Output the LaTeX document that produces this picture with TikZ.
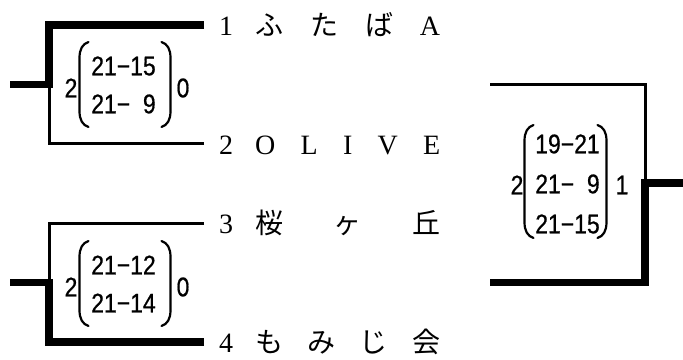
\documentclass[tikz,border=0pt]{standalone}
\usepackage{fontspec}
\setmainfont{Liberation Serif}
\newfontfamily\cjk{Noto Sans CJK JP}
\newfontfamily\scorefam[FakeStretch=0.85,FakeBold=0.6]{Liberation Sans}
\newcommand\J[1]{{\cjk #1}}
\newcommand\teamtext[2]{#1\hspace{22pt}\makebox[185pt][s]{#2}}
\begin{document}
\begin{tikzpicture}[x=1pt,y=-1pt,
  win/.style={line width=7.5pt},
  lose/.style={line width=3pt},
  paren/.style={line width=2.2pt, line cap=round},
  score/.style={font=\scorefam\fontsize{27}{27}\selectfont, inner sep=0pt},
  team/.style={font=\fontsize{28}{28}\selectfont, inner sep=0pt, anchor=base west},
  lpar/.pic={\draw[paren] (9,0) .. controls (3,2) and (0,7) .. (0,16) -- (0,#1-16) .. controls (0,#1-7) and (3,#1-2) .. (9,#1);},
  rpar/.pic={\draw[paren] (-9,0) .. controls (-3,2) and (0,7) .. (0,16) -- (0,#1-16) .. controls (0,#1-7) and (-3,#1-2) .. (-9,#1);}
]
\useasboundingbox (0,0) rectangle (683,359);

% team labels
\node[team] (t1) at (219,35) {\teamtext{1}{\J{ふ}\hfill\J{た}\hfill\J{ば}\hfill A}};
\node[team] (t2) at (219,154) {\teamtext{2}{O\hfill L\hfill I\hfill V\hfill E}};
\node[team] (t3) at (219,233) {\teamtext{3}{\J{桜}\hfill\J{ヶ}\hfill\J{丘}}};
\node[team] (t4) at (219,352) {\teamtext{4}{\J{も}\hfill\J{み}\hfill\J{じ}\hfill\J{会}}};

% bracket coordinates
\coordinate (a1) at (204,25);
\coordinate (a2) at (204,143.5);
\coordinate (j1) at (49,84.5);
\coordinate (o1) at (10,84.5);
\coordinate (a3) at (204,223);
\coordinate (a4) at (204,342);
\coordinate (j2) at (49,282.5);
\coordinate (o2) at (10,282.5);
\coordinate (f1) at (490,84.5);
\coordinate (f2) at (490,282.5);
\coordinate (jf) at (645,183);
\coordinate (of) at (683,183);

\draw[lose] (a2) -| (j1);
\draw[win] (a1) -| (j1) -- (o1);
\draw[lose] (a3) -| (j2);
\draw[win] (a4) -| (j2) -- (o2);
\draw[lose] (f1) -| (jf);
\draw[win] (f2) -| (jf) -- (of);

% block 1 score
\node[score] (s1a) at (123.5,66) {21−15};
\node[score] (s1b) at (123.5,104) {21−\phantom{1}9};
\node[score] (w1) at (71,88) {2};
\node[score] (l1) at (183,88) {0};
\pic at (79.5,42) {lpar=85};
\pic at (170.5,42) {rpar=85};

% block 2 score
\node[score] (s2a) at (123.5,265) {21−12};
\node[score] (s2b) at (123.5,303) {21−14};
\node[score] (w2) at (71,287) {2};
\node[score] (l2) at (183,287) {0};
\pic at (79.5,241) {lpar=85};
\pic at (170.5,241) {rpar=85};

% final score
\node[score] (sfa) at (567.5,144) {19−21};
\node[score] (sfb) at (567.5,184) {21−\phantom{1}9};
\node[score] (sfc) at (567.5,224) {21−15};
\node[score] (wf) at (517,185) {2};
\node[score] (lf) at (622,185) {1};
\pic at (524.5,125) {lpar=113};
\pic at (606.5,125) {rpar=113};
\end{tikzpicture}
\end{document}
